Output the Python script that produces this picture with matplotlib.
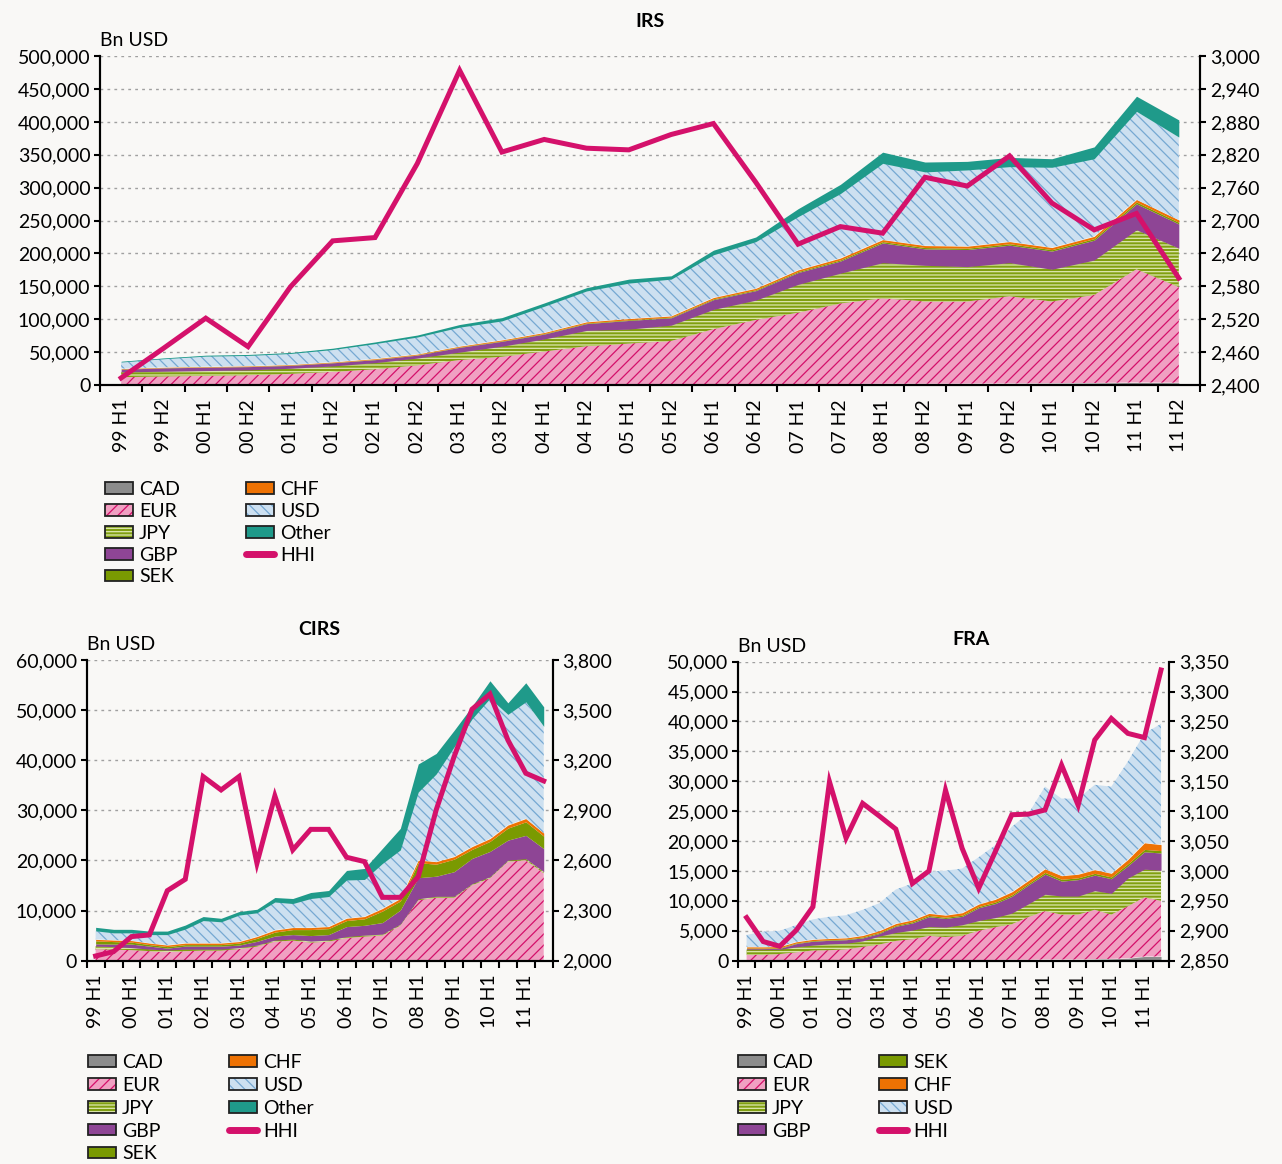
import matplotlib.pyplot as plt
import numpy as np
from matplotlib.patches import Patch
from matplotlib.lines import Line2D
from matplotlib.ticker import FuncFormatter, MultipleLocator

plt.rcParams['font.family'] = ['Lato', 'DejaVu Sans']
plt.rcParams['hatch.linewidth'] = 0.9

BG = '#f9f8f6'
HHI_C = '#d4116b'

periods = ['99 H1', '99 H2', '00 H1', '00 H2', '01 H1', '01 H2', '02 H1', '02 H2',
           '03 H1', '03 H2', '04 H1', '04 H2', '05 H1', '05 H2', '06 H1', '06 H2',
           '07 H1', '07 H2', '08 H1', '08 H2', '09 H1', '09 H2', '10 H1', '10 H2',
           '11 H1', '11 H2']

# IRS, Bn USD
irs_cad = [300, 300, 300, 300, 400, 400, 400, 500, 500, 600, 700, 800, 900, 1000, 1200, 1300,
           1500, 1700, 2000, 2000, 2200, 2500, 2800, 3200, 4000, 3600]
irs_eur = [11700, 12700, 13700, 14700, 16600, 19600, 23600, 29500, 37500, 42400, 50300, 58200,
           62100, 66000, 83800, 97700, 108500, 122300, 130000, 125000, 124800, 132500, 124200,
           133800, 172000, 145400]
irs_jpy = [8000, 8000, 8000, 8000, 8500, 9000, 10000, 11000, 12000, 16000, 19000, 24000, 22000,
           24000, 30000, 30000, 43000, 46000, 54000, 55000, 53000, 51000, 49000, 53000, 60000, 59000]
irs_gbp = [4100, 5100, 5100, 5000, 4400, 4800, 4600, 4500, 7300, 7500, 7500, 10400, 13200, 11200,
           14800, 14500, 18000, 18500, 30000, 25000, 26000, 26600, 27600, 30200, 39400, 36800]
irs_sek = [300, 300, 300, 300, 400, 400, 500, 500, 600, 700, 800, 900, 1000, 1000, 1200, 1300,
           1500, 1700, 2000, 2000, 2000, 2200, 2200, 2400, 2800, 2600]
irs_chf = [600, 600, 600, 700, 700, 800, 900, 1000, 1100, 1300, 1500, 1700, 1800, 1800, 2000, 2200,
           2500, 2800, 3000, 3000, 3000, 3200, 3200, 3400, 3800, 3600]
irs_usd = [10000, 13000, 16000, 16000, 17000, 19000, 23000, 26000, 29000, 29000, 40000, 47000,
           54000, 56000, 65000, 71000, 81000, 98000, 116000, 112000, 116000, 114000, 122000,
           118000, 134000, 126000]
irs_other = [1200, 1200, 1400, 1500, 1500, 2000, 2500, 3000, 4000, 5000, 5000, 5000, 6000, 5000,
             7000, 7000, 12000, 14000, 17000, 15000, 13000, 14000, 13000, 18000, 23000, 26000]
irs_hhi = [2413, 2467, 2522, 2470, 2579, 2663, 2669, 2804, 2974, 2825, 2848, 2832, 2829, 2857,
           2877, 2770, 2657, 2689, 2677, 2779, 2763, 2818, 2732, 2683, 2713, 2595]

# CIRS, Bn USD
cirs_cad = [50] * 26
cirs_eur = [2250, 2150, 2050, 1850, 1650, 1850, 1950, 1950, 2250, 2750, 3750, 3950, 3550, 3750,
            4450, 4750, 4950, 6950, 12000, 12500, 12500, 15000, 16400, 19700, 20000, 17400]
cirs_jpy = [600, 600, 500, 400, 400, 400, 300, 300, 300, 300, 300, 300, 300, 300, 300, 300, 300,
            300, 300, 300, 300, 300, 300, 300, 300, 300]
cirs_gbp = [450, 500, 700, 600, 400, 600, 600, 600, 500, 750, 800, 900, 1100, 1100, 2000, 1950,
            2300, 2800, 4200, 4000, 4900, 5050, 5050, 4000, 4650, 4600]
cirs_sek = [600, 500, 400, 300, 300, 300, 300, 300, 400, 600, 800, 1000, 1200, 1200, 1200, 1300,
            2300, 1800, 3000, 2400, 2500, 1800, 2000, 2400, 2700, 2500]
cirs_chf = [300, 300, 300, 300, 300, 300, 300, 300, 300, 350, 400, 400, 400, 400, 450, 450, 500,
            500, 500, 500, 500, 550, 550, 600, 650, 600]
cirs_usd = [1700, 1450, 1550, 1700, 2100, 2800, 4500, 4250, 5300, 4750, 5600, 4800, 5800, 6000,
            7650, 7400, 9000, 9700, 13600, 17500, 21900, 25500, 28000, 22100, 23300, 21300]
cirs_other = [700, 700, 700, 700, 700, 800, 800, 700, 700, 700, 900, 1000, 1200, 1200, 1900, 2200,
              3000, 4300, 5600, 4100, 3300, 2500, 3500, 2300, 3800, 3900]
cirs_hhi = [2028, 2054, 2144, 2154, 2419, 2487, 3102, 3022, 3102, 2583, 2986, 2663, 2786, 2786,
            2619, 2593, 2379, 2379, 2503, 2902, 3221, 3505, 3596, 3321, 3122, 3076]

# FRA, Bn USD
fra_cad = [20, 20, 20, 20, 30, 30, 30, 40, 50, 60, 70, 80, 80, 100, 100, 120, 150, 150, 200, 200,
           200, 250, 300, 400, 700, 700]
fra_eur = [980, 980, 1080, 1380, 1670, 1720, 1870, 2260, 2650, 3240, 3530, 4070, 3870, 4050, 4900,
           5480, 5950, 7150, 8100, 7500, 7500, 8250, 7400, 8700, 9900, 9300]
fra_jpy = [850, 850, 800, 900, 900, 1050, 1000, 1000, 1400, 1400, 1500, 1550, 1650, 1850, 1700,
           1600, 1850, 2200, 2800, 3100, 3100, 3200, 3550, 4700, 4700, 5100]
fra_gbp = [150, 150, 150, 550, 650, 600, 600, 500, 450, 1050, 1200, 1650, 1450, 1400, 2150, 2350,
           2800, 3150, 3350, 2500, 2750, 2600, 2450, 2050, 2900, 2900]
fra_sek = [100, 100, 100, 100, 100, 100, 100, 150, 150, 150, 200, 200, 200, 200, 200, 250, 250,
           250, 300, 300, 300, 300, 300, 350, 400, 400]
fra_chf = [200, 200, 200, 200, 200, 200, 200, 250, 300, 300, 300, 350, 350, 400, 400, 450, 500,
           500, 600, 600, 600, 600, 600, 700, 1100, 1000]
fra_usd = [2000, 2550, 2650, 2800, 3350, 3650, 3800, 4300, 4600, 5700, 6100, 7000, 7450, 7400,
           7850, 9050, 10900, 11200, 13750, 12900, 12650, 14200, 14500, 16400, 18300, 20200]
fra_hhi = [2922, 2882, 2874, 2901, 2940, 3149, 3055, 3113, 3092, 3070, 2979, 3000, 3135, 3038,
           2971, 3032, 3094, 3095, 3102, 3177, 3110, 3219, 3255, 3230, 3223, 3336]

# fill colour, hatch, hatch colour
styles = {
    'CAD': ('#8c8c8c', None, None),
    'EUR': ('#f0a0c2', '///', '#d4106a'),
    'JPY': ('#809f10', '-----', '#dde7b0'),
    'GBP': ('#8e4595', None, None),
    'SEK': ('#7a9a01', None, None),
    'CHF': ('#ee7203', None, None),
    'USD': ('#cde0f0', '\\\\\\', '#76a8d2'),
    'Other': ('#1f9a8a', None, None),
}

comma = FuncFormatter(lambda v, p: f'{v:,.0f}')


def handle(name):
    fc, hatch, hc = styles[name]
    if hatch:
        return (Patch(facecolor=fc, edgecolor=hc, hatch=hatch, lw=0),
                Patch(facecolor='none', edgecolor='#222222', lw=1.3))
    return Patch(facecolor=fc, edgecolor='#222222', lw=1.3)


def panel(rect, title, title_x, title_pad, names, series, hhi, ymax, ystep, hlim, hstep, every):
    ax = fig.add_axes(rect)
    ax.set_facecolor(BG)
    x = np.arange(len(periods))
    base = np.zeros(len(periods))
    for name, vals in zip(names, series):
        fc, hatch, hc = styles[name]
        top = base + np.array(vals)
        ax.fill_between(x, base, top, facecolor=fc, edgecolor=hc if hc else fc,
                        hatch=hatch, linewidth=0, zorder=2)
        base = top
    ax.set_xlim(-0.5, len(periods) - 0.5)
    ax.set_ylim(0, ymax)
    ax.yaxis.set_major_locator(MultipleLocator(ystep))
    ax.yaxis.set_major_formatter(comma)
    ax.set_axisbelow(True)
    ax.yaxis.grid(True, linestyle=(0, (2, 3)), color='#a0a0a0', lw=1)
    ax.set_xticks(x[::every])
    ax.set_xticklabels(periods[::every], rotation=90)
    ax.set_xticks(np.arange(-0.5, len(periods)), minor=True)
    ax.tick_params(axis='x', which='major', length=0, pad=10, labelsize=14)
    ax.tick_params(axis='x', which='minor', length=5, width=1.5)
    ax.tick_params(axis='y', length=4, width=1.5, labelsize=14, pad=3)
    ax.spines['top'].set_visible(False)
    for s in ['left', 'right', 'bottom']:
        ax.spines[s].set_linewidth(1.5)
    ax.text(0, 1.022, 'Bn USD', transform=ax.transAxes, ha='left', va='bottom', fontsize=14)
    ax.set_title(title, fontweight='bold', fontsize=14, pad=title_pad, x=title_x)

    ax2 = ax.twinx()
    ax2.plot(x, hhi, color=HHI_C, lw=3.6, solid_joinstyle='miter', zorder=5)
    ax2.set_ylim(*hlim)
    ax2.set_yticks(np.arange(hlim[0], hlim[1] + 1, hstep))
    ax2.yaxis.set_major_formatter(comma)
    ax2.tick_params(axis='y', length=4, width=1.5, labelsize=14, pad=3)
    ax2.spines['top'].set_visible(False)
    for s in ['left', 'right', 'bottom']:
        ax2.spines[s].set_linewidth(1.5)
    return ax


fig = plt.figure(figsize=(12.82, 11.64), dpi=100)
fig.patch.set_facecolor(BG)

names8 = ['CAD', 'EUR', 'JPY', 'GBP', 'SEK', 'CHF', 'USD', 'Other']
names7 = ['CAD', 'EUR', 'JPY', 'GBP', 'SEK', 'CHF', 'USD']

panel([0.078, 0.6692, 0.858, 0.2826], 'IRS', 0.5, 21, names8,
      [irs_cad, irs_eur, irs_jpy, irs_gbp, irs_sek, irs_chf, irs_usd, irs_other],
      irs_hhi, 500000, 50000, (2400, 3000), 60, 1)
panel([0.0676, 0.1747, 0.3635, 0.2583], 'CIRS', 0.5, 18, names8,
      [cirs_cad, cirs_eur, cirs_jpy, cirs_gbp, cirs_sek, cirs_chf, cirs_usd, cirs_other],
      cirs_hhi, 60000, 10000, (2000, 3800), 300, 2)
panel([0.5759, 0.1747, 0.3362, 0.2569], 'FRA', 0.54, 12, names7,
      [fra_cad, fra_eur, fra_jpy, fra_gbp, fra_sek, fra_chf, fra_usd],
      fra_hhi, 50000, 5000, (2850, 3350), 50, 2)

hhi_handle = Line2D([], [], color=HHI_C, lw=5, solid_capstyle='round')
leg_kw = dict(loc='upper left', ncol=2, frameon=False, fontsize=14, handlelength=1.45,
              handleheight=0.55, handletextpad=0.3, columnspacing=3.4, borderpad=0,
              borderaxespad=0)

fig.legend([handle(n) for n in names8] + [hhi_handle], names8 + ['HHI'],
           bbox_to_anchor=(0.0819, 0.5868), labelspacing=0.25, **leg_kw)
fig.legend([handle(n) for n in names8] + [hhi_handle], names8 + ['HHI'],
           bbox_to_anchor=(0.0686, 0.0945), labelspacing=0.3, **leg_kw)
fig.legend([handle(n) for n in names7] + [hhi_handle], names7 + ['HHI'],
           bbox_to_anchor=(0.5757, 0.0945), labelspacing=0.3, **leg_kw)

fig.savefig('out.png', dpi=100, facecolor=BG)
